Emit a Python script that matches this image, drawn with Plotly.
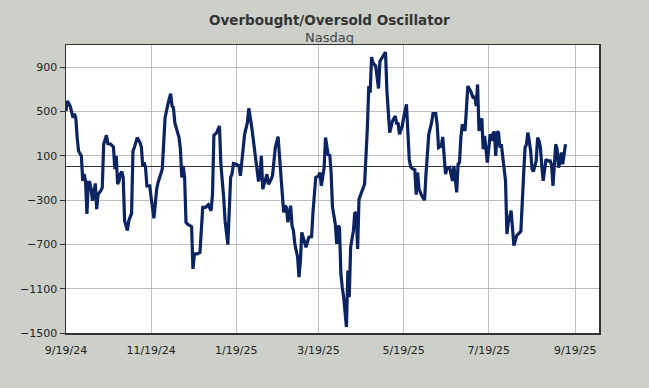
import plotly.graph_objects as go

dates = [
    "2024-09-19", "2024-09-20", "2024-09-22", "2024-09-23", "2024-09-24", "2024-09-25", "2024-09-26", "2024-09-27",
    "2024-09-28", "2024-09-29", "2024-09-30",
    "2024-10-01", "2024-10-02", "2024-10-03", "2024-10-04", "2024-10-05", "2024-10-06", "2024-10-07", "2024-10-08",
    "2024-10-09", "2024-10-10", "2024-10-11", "2024-10-12", "2024-10-14", "2024-10-15", "2024-10-16", "2024-10-18",
    "2024-10-19", "2024-10-21", "2024-10-23", "2024-10-24", "2024-10-25", "2024-10-26", "2024-10-27", "2024-10-28",
    "2024-10-29", "2024-10-30", "2024-10-31",
    "2024-11-02", "2024-11-03", "2024-11-05", "2024-11-06", "2024-11-07", "2024-11-09", "2024-11-11", "2024-11-12",
    "2024-11-13", "2024-11-14", "2024-11-15", "2024-11-16", "2024-11-18", "2024-11-19", "2024-11-21", "2024-11-23",
    "2024-11-24", "2024-11-27", "2024-11-28", "2024-11-29",
    "2024-12-01", "2024-12-03", "2024-12-04", "2024-12-05", "2024-12-06", "2024-12-09", "2024-12-10", "2024-12-11",
    "2024-12-12", "2024-12-13", "2024-12-14", "2024-12-15", "2024-12-18", "2024-12-19", "2024-12-20", "2024-12-22",
    "2024-12-24", "2024-12-25", "2024-12-26", "2024-12-28", "2024-12-29", "2024-12-30",
    "2025-01-01", "2025-01-02", "2025-01-03", "2025-01-05", "2025-01-07", "2025-01-08", "2025-01-10", "2025-01-11",
    "2025-01-13", "2025-01-15", "2025-01-16", "2025-01-17", "2025-01-19", "2025-01-21", "2025-01-22", "2025-01-24",
    "2025-01-25", "2025-01-27", "2025-01-28", "2025-01-30",
    "2025-02-01", "2025-02-02", "2025-02-04", "2025-02-05", "2025-02-06", "2025-02-07", "2025-02-09", "2025-02-10",
    "2025-02-11", "2025-02-12", "2025-02-14", "2025-02-15", "2025-02-16", "2025-02-18", "2025-02-19", "2025-02-21",
    "2025-02-22", "2025-02-23", "2025-02-24", "2025-02-25", "2025-02-27", "2025-02-28",
    "2025-03-01", "2025-03-02", "2025-03-04", "2025-03-05", "2025-03-06", "2025-03-07", "2025-03-09", "2025-03-10",
    "2025-03-12", "2025-03-14", "2025-03-15", "2025-03-17", "2025-03-19", "2025-03-20", "2025-03-21", "2025-03-23",
    "2025-03-24", "2025-03-26", "2025-03-27", "2025-03-28", "2025-03-29", "2025-03-31",
    "2025-04-01", "2025-04-02", "2025-04-03", "2025-04-04", "2025-04-05", "2025-04-06", "2025-04-08", "2025-04-09",
    "2025-04-10", "2025-04-11", "2025-04-13", "2025-04-14", "2025-04-15", "2025-04-16", "2025-04-17", "2025-04-19",
    "2025-04-21", "2025-04-23", "2025-04-24", "2025-04-25", "2025-04-26", "2025-04-27", "2025-04-29", "2025-04-30",
    "2025-05-01", "2025-05-02", "2025-05-04", "2025-05-06", "2025-05-07", "2025-05-08", "2025-05-09", "2025-05-11",
    "2025-05-13", "2025-05-14", "2025-05-15", "2025-05-16", "2025-05-18", "2025-05-19", "2025-05-21", "2025-05-22",
    "2025-05-23", "2025-05-24", "2025-05-25", "2025-05-27", "2025-05-28", "2025-05-29", "2025-05-30",
    "2025-06-01", "2025-06-03", "2025-06-04", "2025-06-06", "2025-06-08", "2025-06-09", "2025-06-11", "2025-06-12",
    "2025-06-13", "2025-06-15", "2025-06-16", "2025-06-18", "2025-06-19", "2025-06-21", "2025-06-22", "2025-06-23",
    "2025-06-24", "2025-06-26", "2025-06-27", "2025-06-28", "2025-06-29", "2025-06-30",
    "2025-07-02", "2025-07-03", "2025-07-04", "2025-07-06", "2025-07-07", "2025-07-08", "2025-07-09", "2025-07-10",
    "2025-07-11", "2025-07-12", "2025-07-13", "2025-07-14", "2025-07-15", "2025-07-16", "2025-07-17", "2025-07-18",
    "2025-07-20", "2025-07-21", "2025-07-22", "2025-07-23", "2025-07-24", "2025-07-25", "2025-07-26", "2025-07-27",
    "2025-07-28", "2025-07-29", "2025-07-31",
    "2025-08-01", "2025-08-02", "2025-08-04", "2025-08-05", "2025-08-06", "2025-08-08", "2025-08-10", "2025-08-11",
    "2025-08-13", "2025-08-14", "2025-08-15", "2025-08-16", "2025-08-17", "2025-08-18", "2025-08-19", "2025-08-20",
    "2025-08-22", "2025-08-23", "2025-08-24", "2025-08-25", "2025-08-26", "2025-08-27", "2025-08-29", "2025-08-30",
    "2025-09-01", "2025-09-02", "2025-09-03", "2025-09-04", "2025-09-05", "2025-09-06", "2025-09-07", "2025-09-08",
    "2025-09-09", "2025-09-10", "2025-09-11", "2025-09-12",
]

oscillator = [
    504, 594, 549, 489, 444, 480, 444, 264, 144, 120, 99,
    -126, -66, -126, -426, -141, -141, -201, -306, -231, -150, -381, -246, -216, -186, 204, 285,
    210, 204, 180, -21, 99, -156, -126, -66, -42, -96, -486,
    -576, -486, -420, 144, 174, 264, 219, 180, 9, 39, -6, -171, -171, -276, -465, -201,
    -141, -21, 234, 444,
    564, 660, 549, 534, 399, 264, 159, -96, 9, -96, -501, -516, -540, -921, -786, -786,
    -774, -531, -366, -366, -351, -342,
    -396, -246, 285, 309, 369, 24, -276, -486, -702, -96, -66, 30, 24, 9, -81, 144,
    294, 399, 528, 369,
    174, 24, -132, -81, 99, -201, -96, -66, -156, -141, -81, 84, 174, 273, 84, -276,
    -411, -351, -366, -501, -351, -531,
    -576, -696, -816, -996, -846, -591, -666, -726, -636, -630, -411, -96, -81, -51, -171, -6,
    264, 99, 114, -51, -366, -516,
    -696, -531, -546, -966, -1086, -1176, -1446, -936, -1176, -726, -576, -411, -420, -741, -291, -231,
    -156, 354, 729, 669, 990, 939, 909, 804,
    708, 954, 999, 1035, 684, 444, 309, 414, 459, 384, 399, 294, 369, 444, 564, 324,
    69, 0, -15, -27, -252, -51, -201,
    -261, -300, -66, 294, 399, 480, 480, 384, 174, 189, 270, -66, -15, -6, -72, -126,
    9, -231, 24, 39, 264, 384,
    324, 564, 729, 684, 648, 618, 639, 549, 744, 324, 384, 438, 159, 279, 159, 39,
    294, 234, 300, 318, 99, 318, 309, 174, 204, 99, -126,
    -606, -501, -396, -546, -711, -621, -600, -582, -66, 174, 204, 309, 234, 144, -21, -42,
    54, 264, 234, 174, 9, -126, 69, 54,
    54, 18, -171, 39, 204, 159, -6, 39, 129, 24, 129, 204,
]

tick_dates = ["2024-09-19", "2024-11-19", "2025-01-19", "2025-03-19", "2025-05-19", "2025-07-19", "2025-09-19"]
tick_labels = ["9/19/24", "11/19/24", "1/19/25", "3/19/25", "5/19/25", "7/19/25", "9/19/25"]

y_ticks = [-1500, -1100, -700, -300, 100, 500, 900]

title_text = "Overbought/Oversold Oscillator"
subtitle_text = "Nasdaq"

BG = "#CCD0C9"
FONT = "DejaVu Sans"

fig = go.Figure()
fig.add_trace(go.Scatter(
    x=dates, y=oscillator, mode="lines",
    line=dict(color="#0B2461", width=3.2),
    hoverinfo="skip", showlegend=False,
))

fig.update_layout(
    width=649, height=388,
    paper_bgcolor=BG, plot_bgcolor="white",
    margin=dict(l=66, r=50, t=45, b=55),
    font=dict(family=FONT, size=11, color="#222222"),
    showlegend=False,
    annotations=[
        dict(text="<b>" + title_text + "</b>", xref="paper", yref="paper", x=0.495, y=1,
             yshift=25, xanchor="center", yanchor="middle", showarrow=False,
             font=dict(family=FONT, size=13.5, color="#333333")),
        dict(text=subtitle_text, xref="paper", yref="paper", x=0.495, y=1,
             yshift=8, xanchor="center", yanchor="middle", showarrow=False,
             font=dict(family=FONT, size=13, color="#444444")),
    ],
)

fig.update_xaxes(
    type="date", range=["2024-09-19", "2025-10-06"],
    tickmode="array", tickvals=tick_dates, ticktext=tick_labels,
    showgrid=True, gridcolor="#BFBFBF", gridwidth=1,
    showline=True, linecolor="#333333", linewidth=1.5, mirror=True,
    ticks="outside", ticklen=6, tickcolor=BG,
    tickfont=dict(family=FONT, size=11, color="#222222"),
    zeroline=False,
)
fig.update_yaxes(
    range=[-1500, 1100],
    tickmode="array", tickvals=y_ticks,
    showgrid=True, gridcolor="#BFBFBF", gridwidth=1,
    showline=True, linecolor="#333333", linewidth=1.5, mirror=True,
    ticks="outside", ticklen=5, tickcolor="#333333",
    tickfont=dict(family=FONT, size=11, color="#222222"),
    zeroline=True, zerolinecolor="#333333", zerolinewidth=1,
)

fig.write_html(
    "out.html",
    config={"displayModeBar": False, "staticPlot": True},
    post_script="document.body.style.margin='0';document.body.style.background='" + BG + "';",
)
